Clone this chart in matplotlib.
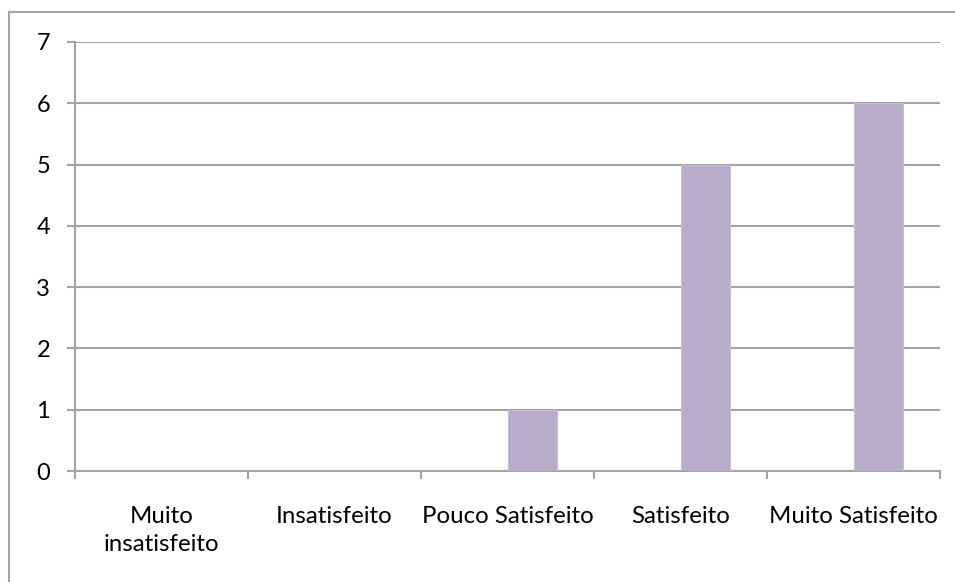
import matplotlib.pyplot as plt
import numpy as np
from matplotlib.lines import Line2D

# Data
categories = ['Muito\ninsatisfeito', 'Insatisfeito', 'Pouco Satisfeito',
              'Satisfeito', 'Muito Satisfeito']
values = [0, 0, 1, 5, 6]

plt.rcParams['font.family'] = ['Lato', 'DejaVu Sans']

fig = plt.figure(figsize=(9.55, 5.82), dpi=100)
ax = fig.add_axes([75 / 955, 1 - 471 / 582, (940 - 75) / 955, (471 - 42) / 582])

x = np.arange(len(categories))
# second series of a two-series cluster (gap width 150%)
bw = 1 / 3.5
ax.bar(x + bw / 2, values, width=bw, color='#b9accb', edgecolor='#c8bdd6',
       linewidth=0.8, zorder=3)

ax.set_xlim(-0.5, len(categories) - 0.5)
ax.set_ylim(0, 7)
ax.set_yticks(range(8))
ax.yaxis.grid(True, color='#a3a3a3', linewidth=1.5, zorder=0)

ax.set_xticks(np.arange(-0.5, len(categories), 1.0))
ax.set_xticklabels([])
ax.set_xticks(x, minor=True)
ax.set_xticklabels(categories, minor=True, fontsize=17.3, va='top', linespacing=1.4)
ax.tick_params(axis='x', which='major', length=6, width=1.5, color='#a3a3a3', direction='out')
ax.tick_params(axis='x', which='minor', length=0, pad=25.5)
ax.tick_params(axis='y', length=6, width=1.5, color='#a3a3a3', labelsize=17, pad=12)

for s in ['top', 'right']:
    ax.spines[s].set_visible(False)
for s in ['left', 'bottom']:
    ax.spines[s].set_color('#a3a3a3')
    ax.spines[s].set_linewidth(1.5)

# outer chart border (only left and top visible)
fig.add_artist(Line2D([8.5 / 955, 8.5 / 955], [0, 1 - 12 / 582], color='#a3a3a3', linewidth=1.5))
fig.add_artist(Line2D([8.5 / 955, 1], [1 - 12 / 582, 1 - 12 / 582], color='#a3a3a3', linewidth=1.5))

fig.savefig('out.png', dpi=100)
